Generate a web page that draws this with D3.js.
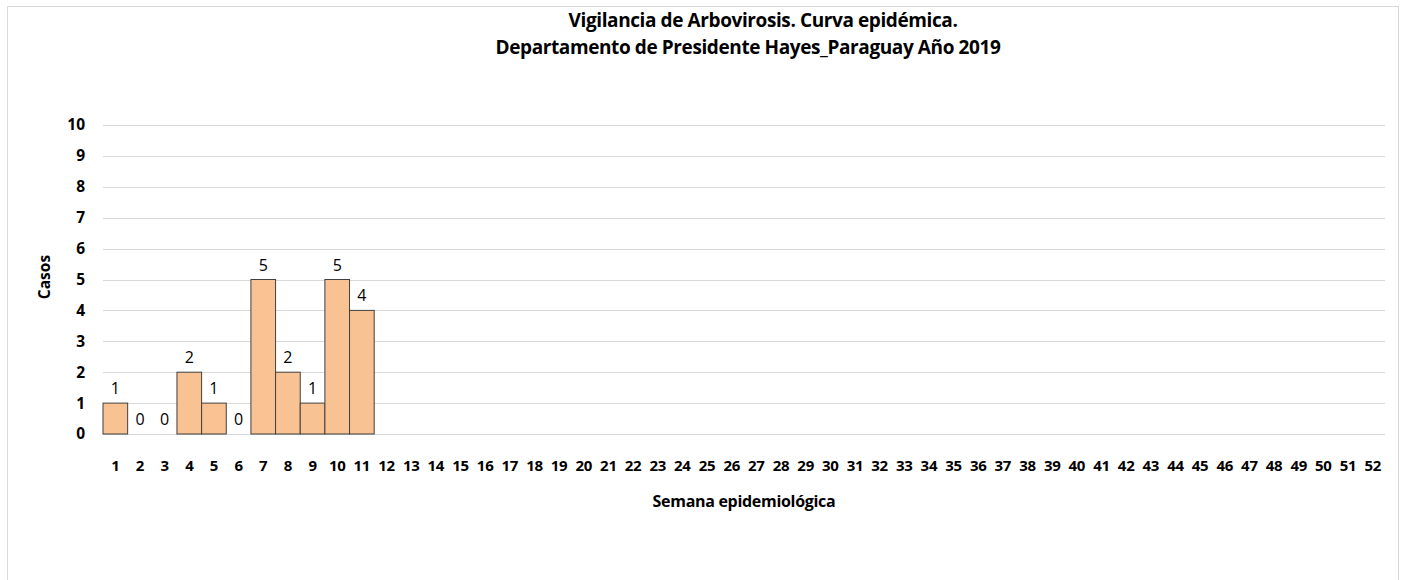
<!DOCTYPE html>
<html>
<head>
<meta charset="utf-8">
<script src="https://cdn.jsdelivr.net/npm/d3@7"></script>
<style>
  body { margin: 0; background: #fff; }
  svg text { font-family: "Open Sans", "Noto Sans", sans-serif; fill: #000; }
</style>
</head>
<body>
<div id="chart"></div>
<script>

//******************************************************************************
//**  Data
//******************************************************************************
var semanas = d3.range(1, 53).map(String);
var casos = [1, 0, 0, 2, 1, 0, 5, 2, 1, 5, 4];
var yTicks = d3.range(0, 11);
var titulo = [
    "Vigilancia de Arbovirosis. Curva epidémica.",
    "Departamento de Presidente Hayes_Paraguay Año 2019"
];


//******************************************************************************
//**  Chart
//******************************************************************************
var width = 1402, height = 580;
var margin = {top: 125, right: 17, bottom: 146, left: 103};

var svg = d3.select("#chart").append("svg")
    .attr("width", width)
    .attr("height", height);

  //Outer frame
    svg.append("rect")
        .attr("x", 7.5).attr("y", 6.5)
        .attr("width", 1391).attr("height", 600)
        .attr("fill", "#fff")
        .attr("stroke", "#d9d9d9");

var x = d3.scaleBand()
    .domain(semanas)
    .range([margin.left, width - margin.right])
    .padding(0);

var y = d3.scaleLinear()
    .domain([0, 10])
    .range([height - margin.bottom, margin.top]);


  //Gridlines
    svg.append("g")
        .selectAll("line")
        .data(yTicks)
        .join("line")
        .attr("x1", margin.left)
        .attr("x2", width - margin.right)
        .attr("y1", function(d){ return Math.round(y(d)) + 0.5; })
        .attr("y2", function(d){ return Math.round(y(d)) + 0.5; })
        .attr("stroke", "#d9d9d9")
        .attr("stroke-width", 1);


  //Y axis labels
    var yAxis = d3.axisLeft(y).tickValues(yTicks).tickSize(0).tickPadding(18);
    var gy = svg.append("g")
        .attr("transform", "translate(" + margin.left + ",0)")
        .call(yAxis);
    gy.select(".domain").remove();
    gy.selectAll("text")
        .style("font-size", "15.5px")
        .style("font-weight", "bold")
        .attr("x", -18);


  //X axis labels
    var xAxis = d3.axisBottom(x).tickSize(0).tickPadding(26);
    var gx = svg.append("g")
        .attr("transform", "translate(0," + y(0) + ")")
        .call(xAxis);
    gx.select(".domain").remove();
    gx.selectAll("text")
        .style("font-size", "15px")
        .style("font-weight", "bold")
        .style("letter-spacing", "-0.3px");


  //Bars
    var barData = casos.map(function(v, i){ return {semana: semanas[i], valor: v}; });

    svg.append("g")
        .selectAll("rect")
        .data(barData.filter(function(d){ return d.valor > 0; }))
        .join("rect")
        .attr("x", function(d){ return x(d.semana); })
        .attr("y", function(d){ return y(d.valor); })
        .attr("width", x.bandwidth())
        .attr("height", function(d){ return y(0) - y(d.valor); })
        .attr("fill", "#f8c292")
        .attr("stroke", "#404040")
        .attr("stroke-width", 1);


  //Data labels
    svg.append("g")
        .selectAll("text")
        .data(barData)
        .join("text")
        .attr("x", function(d){ return x(d.semana) + x.bandwidth()/2; })
        .attr("y", function(d){ return y(d.valor) - 9; })
        .attr("text-anchor", "middle")
        .style("font-size", "16px")
        .text(function(d){ return d.valor; });


  //Titles
    var titleX = [763, 748];
    svg.append("g")
        .selectAll("text")
        .data(titulo)
        .join("text")
        .attr("x", function(d, i){ return titleX[i]; })
        .attr("y", function(d, i){ return 27 + i*27; })
        .attr("text-anchor", "middle")
        .style("font-size", "19px")
        .style("font-weight", "bold")
        .style("letter-spacing", "-0.4px")
        .text(function(d){ return d; });

    svg.append("text")
        .attr("x", (margin.left + width - margin.right)/2)
        .attr("y", 507)
        .attr("text-anchor", "middle")
        .style("font-size", "16px")
        .style("font-weight", "bold")
        .style("letter-spacing", "-0.3px")
        .text("Semana epidemiológica");

    svg.append("text")
        .attr("transform", "translate(50,277) rotate(-90)")
        .attr("text-anchor", "middle")
        .style("font-size", "15.5px")
        .style("font-weight", "bold")
        .text("Casos");

</script>
</body>
</html>
